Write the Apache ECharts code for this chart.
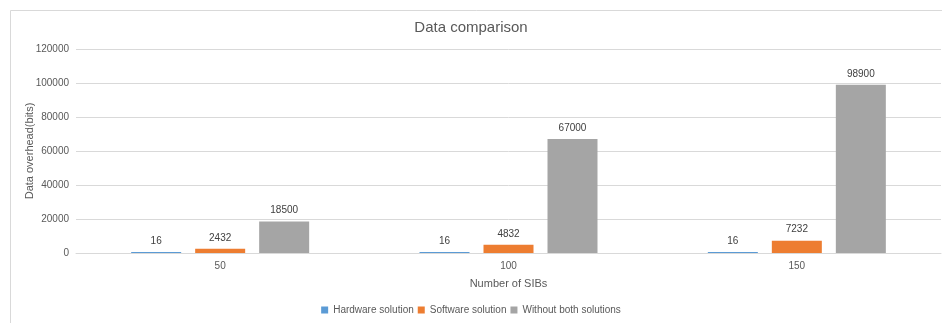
<!DOCTYPE html>
<html>
<head>
<meta charset="utf-8">
<script src="https://cdn.jsdelivr.net/npm/echarts@6/dist/echarts.min.js"></script>
<style>
  html, body { margin: 0; padding: 0; background: #fff; }
  #chart { width: 942px; height: 323px; }
</style>
</head>
<body>
<div id="chart"></div>
<script>
// Number of SIBs on the x axis
const categories = ['50', '100', '150'];
// Data overhead in bits for each approach
const hardwareSolution = [16, 16, 16];
const softwareSolution = [2432, 4832, 7232];
const withoutBothSolutions = [18500, 67000, 98900];
const seriesNames = ['Hardware solution', 'Software solution', 'Without both solutions'];

const FONT = '"Liberation Sans", Arial, sans-serif';
const chart = echarts.init(document.getElementById('chart'), null, { renderer: 'canvas' });

const labelStyle = {
  show: true,
  position: 'top',
  distance: 6,
  color: '#404040',
  fontSize: 10,
  fontFamily: FONT
};

chart.setOption({
  animation: false,
  backgroundColor: '#ffffff',
  graphic: [{
    type: 'rect',
    left: 8,
    top: 8,
    shape: { width: 1000, height: 400 },
    style: { fill: 'none', stroke: '#d9d9d9', lineWidth: 1 },
    silent: true,
    z: -1
  }],
  title: {
    text: 'Data comparison',
    left: 'center',
    top: 15,
    textStyle: { color: '#595959', fontSize: 15, fontWeight: 'normal', fontFamily: FONT }
  },
  legend: {
    bottom: 3,
    left: 'center',
    itemWidth: 7,
    itemHeight: 7,
    itemGap: 4,
    icon: 'rect',
    textStyle: { color: '#595959', fontSize: 10, fontFamily: FONT },
    data: seriesNames
  },
  grid: { left: 76, right: 1, top: 49, bottom: 70, containLabel: false },
  xAxis: {
    type: 'category',
    data: categories,
    name: 'Number of SIBs',
    nameLocation: 'middle',
    nameGap: 25,
    nameTextStyle: { color: '#595959', fontSize: 11, fontFamily: FONT },
    axisLine: { lineStyle: { color: '#d9d9d9' } },
    axisTick: { show: false },
    axisLabel: { color: '#595959', fontSize: 10, fontFamily: FONT, margin: 8 }
  },
  yAxis: {
    type: 'value',
    min: 0,
    max: 120000,
    interval: 20000,
    name: 'Data overhead(bits)',
    nameLocation: 'middle',
    nameGap: 41,
    nameMoveOverlap: false,
    nameTextStyle: { color: '#595959', fontSize: 11, fontFamily: FONT },
    axisLine: { show: false },
    axisTick: { show: false },
    splitLine: { lineStyle: { color: '#d9d9d9' } },
    axisLabel: {
      color: '#595959', fontSize: 10, fontFamily: FONT, margin: 7,
      formatter: (v) => String(v)
    }
  },
  series: [
    {
      name: seriesNames[0],
      type: 'bar',
      data: hardwareSolution,
      barWidth: 50,
      barGap: '28%',
      barMinHeight: 1,
      itemStyle: { color: '#5B9BD5' },
      label: labelStyle
    },
    {
      name: seriesNames[1],
      type: 'bar',
      data: softwareSolution,
      barWidth: 50,
      barGap: '28%',
      itemStyle: { color: '#ED7D31' },
      label: labelStyle
    },
    {
      name: seriesNames[2],
      type: 'bar',
      data: withoutBothSolutions,
      barWidth: 50,
      barGap: '28%',
      itemStyle: { color: '#A5A5A5' },
      label: labelStyle
    }
  ]
});
</script>
</body>
</html>
